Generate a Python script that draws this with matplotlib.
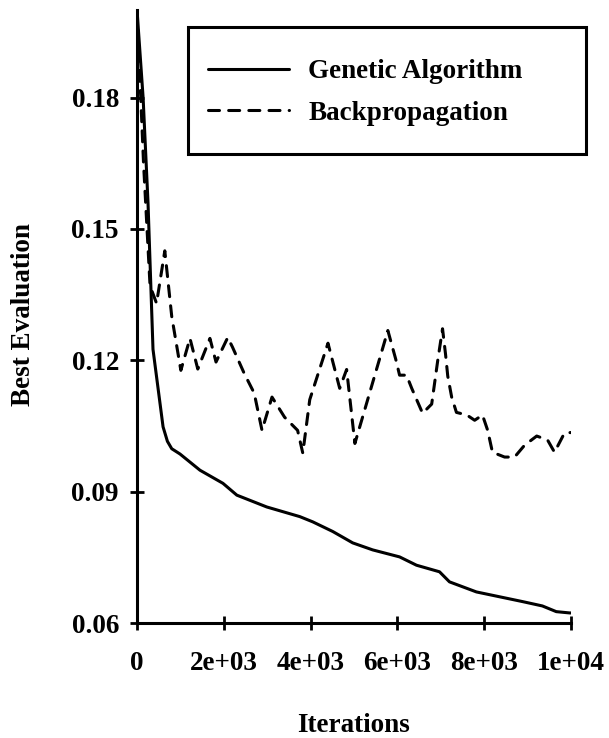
import matplotlib
matplotlib.use("Agg")
import matplotlib.pyplot as plt
from matplotlib.patches import Rectangle

# data
ga_x = [0, 140, 253, 368, 600, 700, 800, 990, 1450, 1980, 2300, 2990, 3750, 4050,
        4510, 4970, 5430, 6050, 6440, 6970, 7200, 7820, 8350, 8880, 9340, 9660, 9970, 10000]
ga_y = [0.200, 0.180, 0.156, 0.1225, 0.1048, 0.1015, 0.0998, 0.0986, 0.0949, 0.0919,
        0.0892, 0.0865, 0.0843, 0.0831, 0.0809, 0.0783, 0.0767, 0.0751, 0.0732, 0.0717,
        0.0694, 0.0671, 0.0660, 0.0649, 0.0639, 0.0626, 0.0623, 0.0623]

bp_x = [0, 150, 300, 450, 640, 800, 1010, 1220, 1400, 1680, 1820, 2090, 2200, 2470,
        2700, 2880, 3110, 3400, 3700, 3820, 3980, 4400, 4670, 4830, 5020, 5780, 5960,
        6050, 6210, 6330, 6580, 6790, 6860, 6930, 7040, 7110, 7160, 7250, 7360, 7600,
        7780, 7960, 8080, 8190, 8470, 8700, 8930, 9210, 9460, 9620, 9850, 10000]
bp_y = [0.200, 0.165, 0.137, 0.133, 0.145, 0.130, 0.1177, 0.125, 0.118, 0.125, 0.1196,
        0.1252, 0.123, 0.117, 0.1125, 0.104, 0.1116, 0.107, 0.104, 0.0988, 0.111,
        0.1239, 0.1136, 0.1179, 0.101, 0.1268, 0.1203, 0.1166, 0.1166, 0.1136, 0.1079,
        0.110, 0.115, 0.120, 0.1272, 0.1213, 0.1164, 0.1116, 0.1081, 0.1075, 0.1063,
        0.1075, 0.104, 0.099, 0.0979, 0.0979, 0.1006, 0.1027, 0.1018, 0.099, 0.1034, 0.1035]

xticks = [0, 2000, 4000, 6000, 8000, 10000]
xtick_labels = ['0', '2e+03', '4e+03', '6e+03', '8e+03', '1e+04']
yticks = [0.06, 0.09, 0.12, 0.15, 0.18]
ytick_labels = ['0.06', '0.09', '0.12', '0.15', '0.18']

plt.rcParams['font.family'] = 'Liberation Serif'
plt.rcParams['font.weight'] = 'bold'
fs = 19.5
lw = 2.2

fig = plt.figure(figsize=(6.09, 7.38), dpi=100)
ax = fig.add_axes([0.225, 0.1558, 0.7126, 0.8307])

ax.plot(ga_x, ga_y, color='black', lw=lw, label='Genetic Algorithm',
        solid_capstyle='round', solid_joinstyle='round')
ax.plot(bp_x, bp_y, color='black', lw=lw, dashes=(3.6, 3.0), label='Backpropagation',
        dash_capstyle='round', dash_joinstyle='round')

ax.set_xlim(0, 10000)
ax.set_ylim(0.06, 0.2)
ax.set_xticks(xticks)
ax.set_xticklabels(xtick_labels)
ax.set_yticks(yticks)
ax.set_yticklabels(ytick_labels)
ax.tick_params(direction='inout', length=10, width=2, labelsize=fs, color='black')
ax.tick_params(axis='x', pad=15)
ax.tick_params(axis='y', pad=8)
for s in ['top', 'right']:
    ax.spines[s].set_visible(False)
for s in ['left', 'bottom']:
    ax.spines[s].set_linewidth(lw)

fig.text(24 / 609, 1 - 315 / 738, 'Best Evaluation', rotation=90, fontsize=fs,
         fontweight='bold', ha='center', va='center')
fig.text(354 / 609, 1 - 725 / 738, 'Iterations', fontsize=fs,
         fontweight='bold', ha='center', va='center')

leg = ax.legend(loc='upper left', bbox_to_anchor=(208 / 609, 1 - 59 / 738),
                bbox_transform=fig.transFigure, frameon=False, fontsize=fs,
                handlelength=3.0, handletextpad=0.7, labelspacing=0.61,
                borderpad=0, borderaxespad=0)
fig.patches.append(Rectangle((188 / 609, 1 - 154 / 738), 398 / 609, 127 / 738,
                             transform=fig.transFigure, fill=False, lw=lw,
                             edgecolor='black'))

fig.savefig('out.png', dpi=100)
